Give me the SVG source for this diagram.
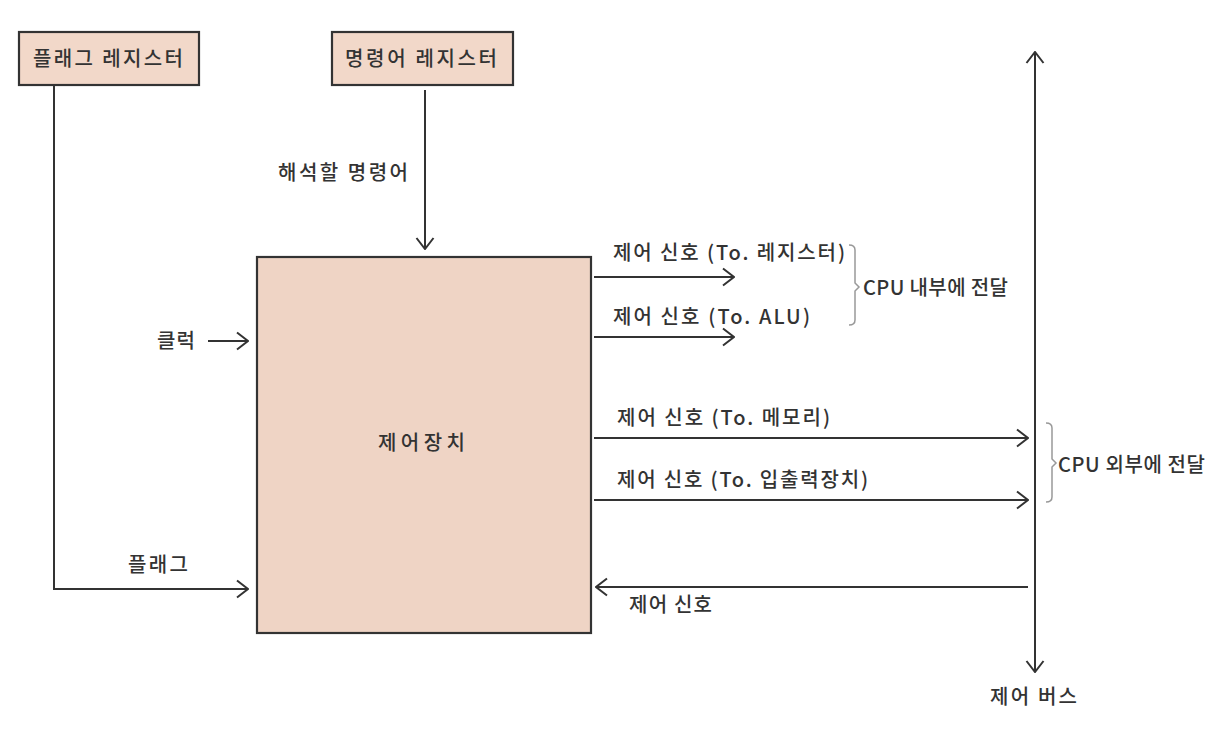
<svg xmlns="http://www.w3.org/2000/svg" width="1228" height="748" viewBox="0 0 1228 748">
<style>
text{font-family:"Noto Sans CJK KR","Noto Sans",sans-serif;font-size:20px;font-weight:500;fill:#333}
.box{fill:#f2d8c9;stroke:#333;stroke-width:2.2}
.cu{fill:#efd4c5;stroke:#333;stroke-width:2.2}
.ln{fill:none;stroke:#333;stroke-width:2;marker-end:url(#ah)}
.br{fill:none;stroke:#999;stroke-width:1.5}
</style>
<defs>
<marker id="ah" viewBox="0 0 13 20" refX="12" refY="10" markerWidth="13" markerHeight="20" markerUnits="userSpaceOnUse" orient="auto-start-reverse">
<path d="M1,1.5 L12,10 L1,18.5" fill="none" stroke="#333" stroke-width="2"/>
</marker>
</defs>
<rect width="1228" height="748" fill="#fff"/>
<g id="flag-register">
<rect class="box" x="19" y="32" width="180" height="53"/>
<text x="33" y="66" textLength="150" lengthAdjust="spacing">플래그 레지스터</text>
</g>
<g id="instruction-register">
<rect class="box" x="332" y="32" width="181" height="53"/>
<text x="345" y="66" textLength="152" lengthAdjust="spacing">명령어 레지스터</text>
</g>
<g id="control-unit">
<rect class="cu" x="257" y="257" width="334" height="376"/>
<text x="378" y="450" textLength="87" lengthAdjust="spacing">제어장치</text>
</g>
<g id="connectors">
<path class="ln" d="M54,85 V589 H248"/>
<path class="ln" d="M425,90 V249"/>
<path class="ln" d="M208,341 H248"/>
<path class="ln" d="M594,277 H734"/>
<path class="ln" d="M594,337 H734"/>
<path class="ln" d="M594,438 H1028"/>
<path class="ln" d="M594,500 H1028"/>
<path class="ln" d="M1028,587 H596"/>
<path class="ln" d="M1035,52 V672" style="marker-start:url(#ah)"/>
<path class="br" d="M849,245 Q855,245 855,250 V283 L859,287 L855,291 V320 Q855,325 849,325"/>
<path class="br" d="M1046,423 Q1052,423 1052,428 V459 L1056,463 L1052,467 V497 Q1052,502 1046,502"/>
</g>
<g id="labels">
<text x="128" y="572" textLength="60" lengthAdjust="spacing">플래그</text>
<text x="278" y="180" textLength="130" lengthAdjust="spacing">해석할 명령어</text>
<text x="157" y="348" textLength="38" lengthAdjust="spacing">클럭</text>
<text x="613" y="260" textLength="232" lengthAdjust="spacing">제어 신호 (To. 레지스터)</text>
<text x="613" y="324" textLength="197" lengthAdjust="spacing">제어 신호 (To. ALU)</text>
<text x="863" y="295" textLength="145" lengthAdjust="spacing">CPU 내부에 전달</text>
<text x="617" y="425" textLength="213" lengthAdjust="spacing">제어 신호 (To. 메모리)</text>
<text x="617" y="487" textLength="251" lengthAdjust="spacing">제어 신호 (To. 입출력장치)</text>
<text x="1058" y="472" textLength="147" lengthAdjust="spacing">CPU 외부에 전달</text>
<text x="629" y="612" textLength="83" lengthAdjust="spacing">제어 신호</text>
<text x="990" y="704" textLength="87" lengthAdjust="spacing">제어 버스</text>
</g>
</svg>
